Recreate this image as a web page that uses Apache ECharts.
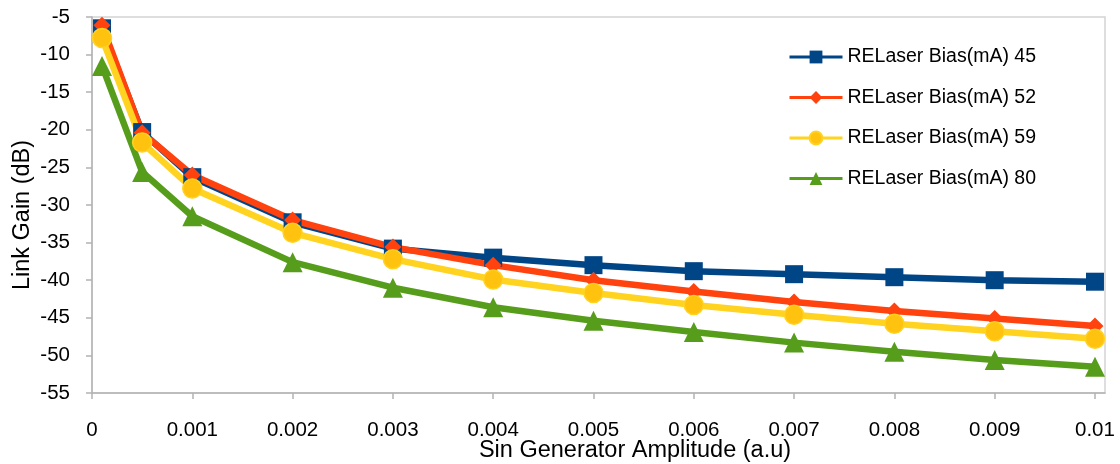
<!DOCTYPE html>
<html>
<head>
<meta charset="utf-8">
<script src="https://cdn.jsdelivr.net/npm/echarts@6/dist/echarts.min.js"></script>
<style>
  html, body { margin: 0; padding: 0; background: #ffffff; }
  #chart { width: 1120px; height: 464px; }
</style>
</head>
<body>
<div id="chart"></div>
<script>
// Sine generator amplitude (a.u) at each measurement
const amplitude = [0.0001, 0.0005, 0.001, 0.002, 0.003, 0.004, 0.005, 0.006, 0.007, 0.008, 0.009, 0.01];

// Link gain (dB) per laser bias current
const bias45 = [-6.5, -20.3, -26.3, -32.3, -35.8, -37.0, -38.0, -38.8, -39.2, -39.6, -40.0, -40.2];
const bias52 = [-6.1, -20.4, -26.0, -32.0, -35.6, -38.0, -40.0, -41.5, -42.9, -44.1, -45.1, -46.1];
const bias59 = [-7.8, -21.7, -27.8, -33.7, -37.2, -39.9, -41.7, -43.3, -44.6, -45.8, -46.8, -47.8];
const bias80 = [-11.5, -25.6, -31.5, -37.6, -41.0, -43.6, -45.4, -46.9, -48.3, -49.5, -50.6, -51.5];

const seriesNames = ['RELaser Bias(mA) 45', 'RELaser Bias(mA) 52', 'RELaser Bias(mA) 59', 'RELaser Bias(mA) 80'];

// Tick positions on the amplitude axis
const xTicks = [0, 0.001, 0.002, 0.003, 0.004, 0.005, 0.006, 0.007, 0.008, 0.009, 0.01];

const FONT = '"Liberation Sans", Arial, sans-serif';

function pairs(ys) {
  return amplitude.map((x, i) => [x, ys[i]]);
}

function lineSeries(name, ys, color, symbol, size, border) {
  return {
    name: name,
    type: 'line',
    data: pairs(ys),
    symbol: symbol,
    symbolSize: size,
    showAllSymbol: true,
    clip: false,
    lineStyle: { color: color, width: 6.5 },
    itemStyle: border
      ? { color: border.fill, borderColor: color, borderWidth: 1.5 }
      : { color: color },
    emphasis: { disabled: true },
    animation: false
  };
}

const chart = echarts.init(document.getElementById('chart'), null, { renderer: 'canvas' });

chart.setOption({
  backgroundColor: '#ffffff',
  animation: false,
  grid: {
    left: 92, right: 15, top: 17, bottom: 71,
    outerBoundsMode: 'none',
    containLabel: false,
    show: true,
    borderColor: '#d4d4d4',
    borderWidth: 1.5,
    backgroundColor: 'transparent'
  },
  legend: {
    orient: 'vertical',
    left: 788,
    top: 47,
    padding: 0,
    itemWidth: 53,
    itemHeight: 16,
    itemGap: 20.5,
    lineStyle: { width: 3 },
    textStyle: { fontFamily: FONT, fontSize: 19.5, color: '#000000', lineHeight: 20 },
    data: seriesNames
  },
  xAxis: {
    type: 'value',
    min: 0,
    max: 0.0101,
    name: 'Sin Generator Amplitude (a.u)',
    nameLocation: 'middle',
    nameGap: 46,
    nameMoveOverlap: false,
    nameTextStyle: { fontFamily: FONT, fontSize: 23.5, color: '#000000', padding: [0, 0, 0, 73] },
    axisLine: { lineStyle: { color: '#b3b3b3', width: 1.5 } },
    axisTick: { show: true, length: 6, lineStyle: { color: '#b3b3b3', width: 1.5 }, customValues: xTicks },
    axisLabel: {
      fontFamily: FONT, fontSize: 20.5, color: '#000000', margin: 27,
      customValues: xTicks,
      formatter: v => String(+v.toFixed(4))
    },
    splitLine: { show: false }
  },
  yAxis: {
    type: 'value',
    min: -55,
    max: -5,
    interval: 5,
    name: 'Link Gain (dB)',
    nameLocation: 'middle',
    nameGap: 57,
    nameMoveOverlap: false,
    nameTextStyle: { fontFamily: FONT, fontSize: 23.5, color: '#000000', padding: [0, 20, 0, 0] },
    axisLine: { show: true, lineStyle: { color: '#b3b3b3', width: 1.5 } },
    axisTick: { show: true, length: 6, lineStyle: { color: '#b3b3b3', width: 1.5 } },
    axisLabel: { fontFamily: FONT, fontSize: 20.5, color: '#000000', margin: 22 },
    splitLine: { show: false }
  },
  series: [
    lineSeries(seriesNames[0], bias45, '#004586', 'rect', 18),
    lineSeries(seriesNames[1], bias52, '#ff420e', 'diamond', [17, 17]),
    lineSeries(seriesNames[2], bias59, '#ffd320', 'circle', 19, { fill: '#ffc20e' }),
    lineSeries(seriesNames[3], bias80, '#579d1c', 'triangle', 20)
  ]
});
</script>
</body>
</html>
